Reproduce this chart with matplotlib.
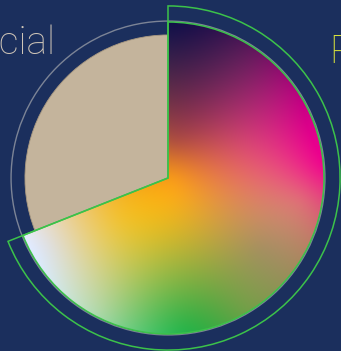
import numpy as np
import matplotlib
matplotlib.use("Agg")
from matplotlib import pyplot as plt
from matplotlib.patches import Circle

# ------ data
labels = ["Private", "Commercial"]
shares = [69, 31]

# ------ style
bg = "#1b2f5d"
beige = "#c4b49c"
green = "#3cc24a"
ring = "#7c8496"

# gradient anchors for the highlighted slice (unit circle coords)
grad_xy = np.array([
    [0.01, 0.98], [0.50, 0.82], [0.99, 0.08], [0.75, 0.55],
    [0.03, 0.00], [0.05, 0.50], [0.05, 0.24], [0.50, 0.20],
    [0.85, -0.14], [-0.31, -0.24], [-0.79, -0.43], [-0.45, -0.85],
    [0.11, -0.97], [0.00, -0.55], [0.60, -0.45], [0.50, -0.85],
    [-0.95, -0.15], [0.95, -0.40],
])
grad_rgb = ["#14124a", "#5c1a5a", "#ee0a8c", "#b0107a",
            "#f5981c", "#70304a", "#b05040", "#d84a70",
            "#e06a78", "#f2c030", "#e0e2e6", "#b0d8a8",
            "#2cb44a", "#a8b840", "#a89060", "#70a048",
            "#e8e4dc", "#c07868"]


def tps(px, py, vals, gx, gy):
    # thin plate spline through the anchors, one channel at a time
    r = np.hypot(px[:, None] - px[None, :], py[:, None] - py[None, :])
    with np.errstate(divide="ignore", invalid="ignore"):
        k = np.where(r > 0, r ** 2 * np.log(r), 0.0)
    m = len(px)
    p = np.column_stack([np.ones(m), px, py])
    a = np.zeros((m + 3, m + 3))
    a[:m, :m] = k
    a[:m, m:] = p
    a[m:, :m] = p.T
    b = np.zeros((m + 3, vals.shape[1]))
    b[:m] = vals
    coef = np.linalg.solve(a, b)
    rg = np.hypot(gx[..., None] - px, gy[..., None] - py)
    with np.errstate(divide="ignore", invalid="ignore"):
        kg = np.where(rg > 0, rg ** 2 * np.log(rg), 0.0)
    out = kg @ coef[:m]
    out += coef[m] + gx[..., None] * coef[m + 1] + gy[..., None] * coef[m + 2]
    return np.clip(out, 0, 1)


fig = plt.figure(figsize=(3.41, 3.51), dpi=100, facecolor=bg)
ax = fig.add_axes([0, 0, 1, 1])
ax.set_facecolor(bg)

# background track
ax.add_patch(Circle((0, 0), 1.006, fill=False, ec=ring, lw=1, zorder=1))

wedges, _ = ax.pie(shares, startangle=90, counterclock=False, radius=1.0,
                   wedgeprops=dict(lw=0))
main, other = wedges
other.set_radius(0.917)
other.set_facecolor(beige)
other.set_edgecolor("#a89880")
other.set_linewidth(0.6)
other.set_zorder(2)
main.set_facecolor("none")
main.set_edgecolor(green)
main.set_linewidth(1.1)
main.set_zorder(4)

# gradient fill clipped to the main slice
n = 300
gx, gy = np.meshgrid(np.linspace(-1, 1, n), np.linspace(-1, 1, n))
cols = np.array([matplotlib.colors.to_rgb(c) for c in grad_rgb])
img = tps(grad_xy[:, 0], grad_xy[:, 1], cols, gx, gy)
im = ax.imshow(img, extent=(-1, 1, -1, 1), origin="lower", zorder=3,
               interpolation="bilinear")
im.set_clip_path(main)

# outline of the highlighted slice
outline, _ = ax.pie(shares, startangle=90, counterclock=False, radius=1.103,
                    wedgeprops=dict(fill=False, ec=green, lw=1.1))
outline[1].set_visible(False)
for p in outline:
    p.set_zorder(5)

ax.text(-0.72, 0.795, labels[1], ha="right", va="baseline", fontsize=28,
        color="#d0c6b8", family="Roboto", fontweight="light")
ax.text(1.033, 0.737, labels[0], ha="left", va="baseline", fontsize=28,
        color="#d6e03c", family="Roboto", fontweight="light")

ax.set_xlim(-168 / 156, (341 - 168) / 156)
ax.set_ylim(-(351 - 178) / 156, 178 / 156)
ax.set_aspect("auto")
ax.axis("off")

fig.savefig("out.png", dpi=100, facecolor=bg)
